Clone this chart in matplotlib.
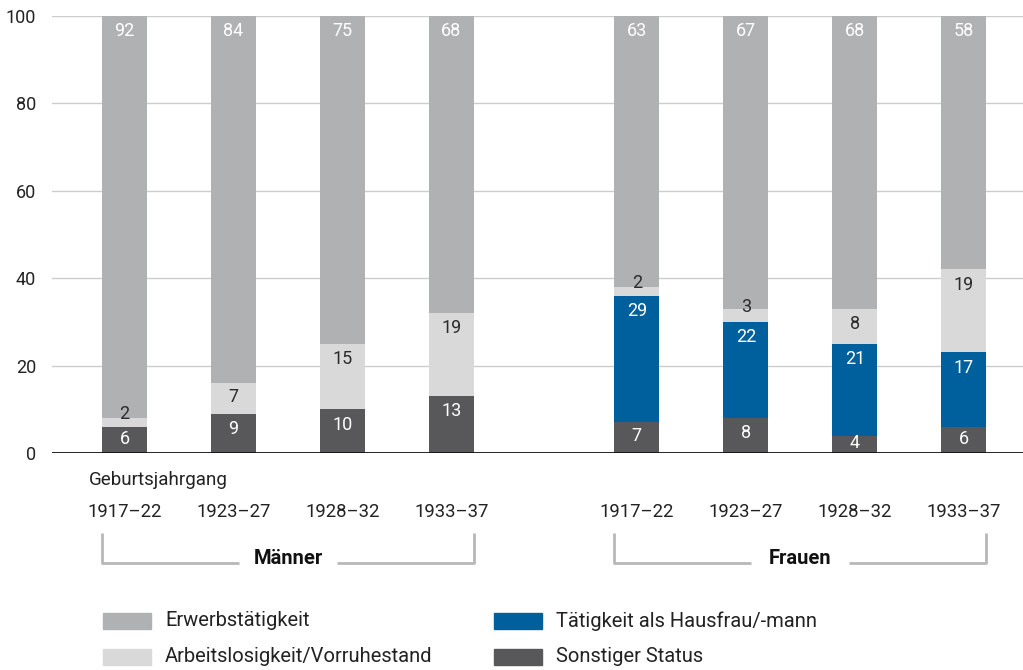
import matplotlib.pyplot as plt
from matplotlib.patches import Rectangle

plt.rcParams['font.family'] = ['Roboto', 'DejaVu Sans']

# data (percent)
cohorts = ["1917\u201322", "1923\u201327", "1928\u201332", "1933\u201337"]
groups = ["Männer", "Frauen"]
sonstiger = [6, 9, 10, 13, 7, 8, 4, 6]
hausfrau = [0, 0, 0, 0, 29, 22, 21, 17]
arbeitslos = [2, 7, 15, 19, 2, 3, 8, 19]
erwerb = [92, 84, 75, 68, 63, 67, 68, 58]

series = [
    ("Sonstiger Status", sonstiger, "#58585a", "white"),
    ("Tätigkeit als Hausfrau/-mann", hausfrau, "#005f9d", "white"),
    ("Arbeitslosigkeit/Vorruhestand", arbeitslos, "#d9d9d9", "#2b2b2b"),
    ("Erwerbstätigkeit", erwerb, "#b0b1b3", "white"),
]

xpos = [0, 1, 2, 3, 4.7, 5.7, 6.7, 7.7]
width = 0.413


def label_y(top, v):
    if v <= 3:
        return top - v / 2 + 2
    return top - min(3.5, v * 0.45)


fig = plt.figure(figsize=(10.23, 6.70), dpi=100)
ax = fig.add_axes([52 / 1023, 217 / 670, 971 / 1023, 437 / 670])

bottom = [0] * len(xpos)
for name, vals, color, tcol in series:
    for i, (x, v) in enumerate(zip(xpos, vals)):
        if v == 0:
            continue
        ax.bar(x, v, width, bottom=bottom[i], color=color, zorder=2)
        top = min(100, bottom[i] + v)
        ax.text(x, label_y(top, v), str(v), ha="center", va="center",
                fontsize=13, color=tcol, zorder=3)
        bottom[i] += v

ax.set_xlim(-0.665, 8.243)
ax.set_ylim(0, 100)
ax.set_yticks([0, 20, 40, 60, 80, 100])
ax.yaxis.grid(True, color="#cccccc", linewidth=1, zorder=0)
ax.axhline(0, color="#111111", linewidth=2, zorder=4)
for s in ax.spines.values():
    s.set_visible(False)
ax.set_xticks([])
ax.tick_params(axis="y", length=0, pad=11.5, labelsize=13, labelcolor="#222222")

# below-axis annotation
ax.text(-0.33, -6.2, "Geburtsjahrgang", ha="left", va="center", fontsize=13.5,
        color="#222222", clip_on=False)
for i, x in enumerate(xpos):
    ax.text(x, -13.5, cohorts[i % 4], ha="center", va="center", fontsize=13.3,
            color="#222222", clip_on=False)

for g, name in enumerate(groups):
    x0 = xpos[g * 4] - width / 2
    x1 = xpos[g * 4 + 3] + width / 2
    xm = (x0 + x1) / 2
    gap = 0.45
    kw = dict(color="#b8b8b8", linewidth=2, clip_on=False, solid_capstyle="butt")
    ax.plot([x0, x0, xm - gap], [-18.3, -25.2, -25.2], **kw)
    ax.plot([xm + gap, x1, x1], [-25.2, -25.2, -18.3], **kw)
    ax.text(xm, -24.2, name, ha="center", va="center", fontsize=14.5,
            fontweight="bold", color="#111111", clip_on=False)

# legend
legend_items = [
    ("Erwerbstätigkeit", "#b0b1b3", 103, 621),
    ("Arbeitslosigkeit/Vorruhestand", "#d9d9d9", 103, 657),
    ("Tätigkeit als Hausfrau/-mann", "#005f9d", 494, 621),
    ("Sonstiger Status", "#58585a", 494, 657),
]
for label, color, px, py in legend_items:
    fig.patches.append(Rectangle((px / 1023, (670 - py - 8) / 670), 48 / 1023, 16 / 670,
                                 transform=fig.transFigure, color=color))
    fig.text((px + 62) / 1023, (670 - py) / 670, label, ha="left", va="center",
             fontsize=14.5, color="#222222")

fig.savefig("out.png", dpi=100)
